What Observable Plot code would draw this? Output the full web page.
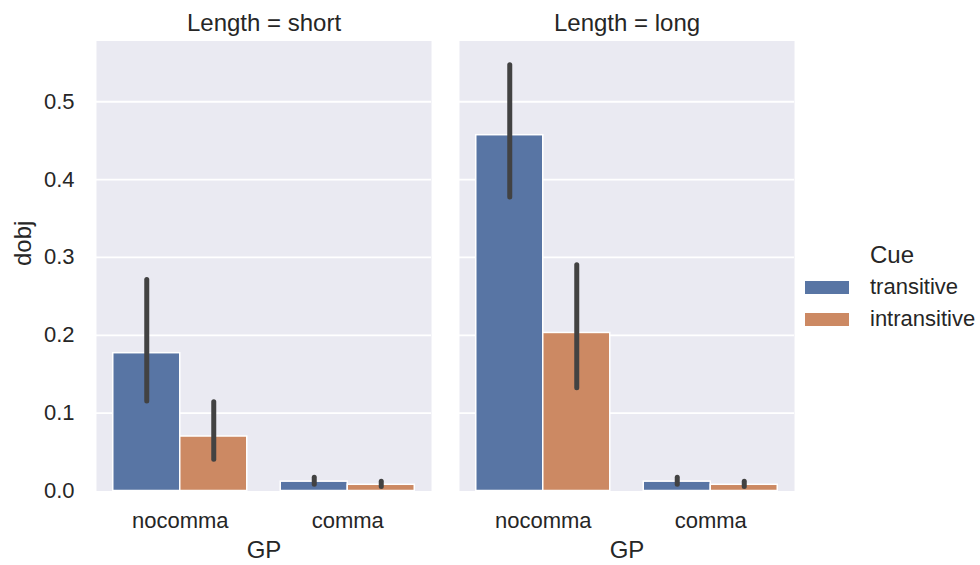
<!DOCTYPE html>
<html>
<head>
<meta charset="utf-8">
<script src="https://cdn.jsdelivr.net/npm/d3@7"></script>
<script src="https://cdn.jsdelivr.net/npm/@observablehq/plot@0.6"></script>
<style>
  html, body { margin: 0; padding: 0; background: #ffffff; }
  #chart { position: relative; width: 980px; height: 565px; font-family: "Liberation Sans", Arial, sans-serif; color: #262626; }
  #legend { position: absolute; left: 0; top: 0; }
  .lg-title { position: absolute; left: 870px; top: 255px; transform: translateY(-50%); font-size: 24px; line-height: 1; }
  .lg-row { position: absolute; left: 805px; height: 26px; display: flex; align-items: center; }
  .lg-swatch { width: 44px; height: 13px; margin-right: 21px; }
  .lg-label { font-size: 22px; line-height: 1; white-space: nowrap; }
</style>
</head>
<body>
<div id="chart"></div>
<script>
// Facets, categories and hue levels
const lengths = ["short", "long"];
const gps = ["nocomma", "comma"];
const cues = ["transitive", "intransitive"];
const cueColors = ["#5875a4", "#cc8963"];

// Mean dobj per GP (nocomma, comma)
const shortTransitive = [0.177, 0.012];
const shortIntransitive = [0.070, 0.008];
const longTransitive = [0.457, 0.012];
const longIntransitive = [0.203, 0.008];

// 95% confidence intervals per GP (nocomma, comma) as [low, high]
const shortTransitiveCI = [[0.115, 0.271], [0.008, 0.017]];
const shortIntransitiveCI = [[0.040, 0.114], [0.005, 0.012]];
const longTransitiveCI = [[0.377, 0.547], [0.008, 0.017]];
const longIntransitiveCI = [[0.132, 0.290], [0.005, 0.012]];

const yTicks = [0, 0.1, 0.2, 0.3, 0.4, 0.5];

const means = {
  short: {transitive: shortTransitive, intransitive: shortIntransitive},
  long: {transitive: longTransitive, intransitive: longIntransitive}
};
const cis = {
  short: {transitive: shortTransitiveCI, intransitive: shortIntransitiveCI},
  long: {transitive: longTransitiveCI, intransitive: longIntransitiveCI}
};

// Dodged bars: each GP occupies one unit; the two cues split 0.8 of it
const rows = [];
for (const Length of lengths) {
  gps.forEach((GP, gi) => {
    cues.forEach((Cue, ci) => {
      const x1 = gi - 0.4 + 0.4 * ci;
      rows.push({
        Length, GP, Cue,
        x1, x2: x1 + 0.4, xc: x1 + 0.2,
        dobj: means[Length][Cue][gi],
        lo: cis[Length][Cue][gi][0],
        hi: cis[Length][Cue][gi][1]
      });
    });
  });
}

const chart = Plot.plot({
  width: 980,
  height: 565,
  marginLeft: 96,
  marginRight: 185.5,
  marginTop: 40.5,
  marginBottom: 74.5,
  style: {fontFamily: "'Liberation Sans', Arial, sans-serif", fontSize: "22px", color: "#262626", background: "transparent"},
  fx: {domain: lengths, paddingInner: 0.077, paddingOuter: 0, axis: null, label: null},
  x: {domain: [-0.5, 1.5], axis: null},
  y: {domain: [0, 0.578], axis: null},
  color: {domain: cues, range: cueColors},
  marks: [
    Plot.frame({fill: "#eaeaf2", stroke: null}),
    Plot.gridY(yTicks.slice(1), {stroke: "#ffffff", strokeOpacity: 1, strokeWidth: 1.8}),
    Plot.axisFx({anchor: "top", tickSize: 0, tickPadding: 10.5, label: null, fontSize: 24,
      tickFormat: d => `Length = ${d}`}),
    Plot.axisY(yTicks, {tickSize: 0, tickPadding: 22, label: null, tickFormat: d3.format(".1f")}),
    Plot.axisX([0, 1], {tickSize: 0, tickPadding: 21, label: null, tickFormat: i => gps[i]}),
    Plot.rectY(rows, {fx: "Length", x1: "x1", x2: "x2", y1: 0, y2: "dobj", fill: "Cue",
      stroke: "#ffffff", strokeWidth: 1.5}),
    Plot.ruleX(rows, {fx: "Length", x: "xc", y1: "lo", y2: "hi", stroke: "#424242",
      strokeWidth: 5, strokeLinecap: "round"}),
    Plot.text(["GP"], {frameAnchor: "bottom", dy: 59.5, lineAnchor: "middle", fontSize: 24, fill: "#262626"}),
    Plot.text(["dobj"], {fx: () => "short", frameAnchor: "left", dx: -73.5, rotate: -90,
      lineAnchor: "middle", fontSize: 24, fill: "#262626"})
  ]
});

const root = document.getElementById("chart");
root.appendChild(chart);

// Legend for the Cue hue
const legend = document.createElement("div");
legend.id = "legend";
const title = document.createElement("div");
title.className = "lg-title";
title.textContent = "Cue";
legend.appendChild(title);
const rowCenters = [287, 319];
cues.forEach((c, i) => {
  const row = document.createElement("div");
  row.className = "lg-row";
  row.style.top = (rowCenters[i] - 13) + "px";
  const sw = document.createElement("div");
  sw.className = "lg-swatch";
  sw.style.background = cueColors[i];
  const lab = document.createElement("span");
  lab.className = "lg-label";
  lab.textContent = c;
  row.appendChild(sw);
  row.appendChild(lab);
  legend.appendChild(row);
});
root.appendChild(legend);
</script>
</body>
</html>
